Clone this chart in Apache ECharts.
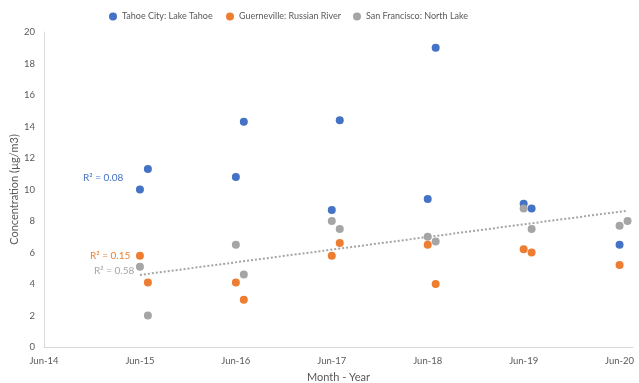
<!DOCTYPE html>
<html>
<head>
<meta charset="utf-8">
<script src="https://cdn.jsdelivr.net/npm/echarts@6/dist/echarts.min.js"></script>
<style>
  html, body { margin: 0; padding: 0; background: #fff; }
  #chart { width: 639px; height: 383px; }
</style>
</head>
<body>
<div id="chart"></div>
<script>
// x in years: 2015 = Jun-15, +1/12 = one month later
const tahoeX = [2015, 2015.083, 2016, 2016.083, 2017, 2017.083, 2018, 2018.083, 2019, 2019.083, 2020];
const tahoeY = [10.0, 11.3, 10.8, 14.3, 8.7, 14.4, 9.4, 19.0, 9.1, 8.8, 6.5];

const guernevilleX = [2015, 2015.083, 2016, 2016.083, 2017, 2017.083, 2018, 2018.083, 2019, 2019.083, 2020];
const guernevilleY = [5.8, 4.1, 4.1, 3.0, 5.8, 6.6, 6.5, 4.0, 6.2, 6.0, 5.2];

const sfX = [2015, 2015.083, 2016, 2016.083, 2017, 2017.083, 2018, 2018.083, 2019, 2019.083, 2020, 2020.083];
const sfY = [5.1, 2.0, 6.5, 4.6, 8.0, 7.5, 7.0, 6.7, 8.8, 7.5, 7.7, 8.0];

const seriesNames = ['Tahoe City: Lake Tahoe', 'Guerneville: Russian River', 'San Francisco: North Lake'];
const colors = ['#4472C4', '#ED7D31', '#A5A5A5'];
const r2Labels = ['R² = 0.08', 'R² = 0.15', 'R² = 0.58'];

const zip = (xs, ys) => xs.map((x, i) => [x, ys[i]]);

// least squares trend for the San Francisco series
function trend(xs, ys) {
    const n = xs.length;
    const mx = xs.reduce((a, b) => a + b, 0) / n;
    const my = ys.reduce((a, b) => a + b, 0) / n;
    let sxy = 0, sxx = 0;
    xs.forEach((x, i) => { sxy += (x - mx) * (ys[i] - my); sxx += (x - mx) * (x - mx); });
    const b = sxy / sxx;
    const a = my - b * mx;
    const x0 = Math.min(...xs), x1 = Math.max(...xs);
    return [[x0, a + b * x0], [x1, a + b * x1]];
}

const chart = echarts.init(document.getElementById('chart'));
const textColor = '#595959';
const font = 'Lato, sans-serif';

const legendLefts = [104, 221, 348];
const legends = seriesNames.map((name, i) => ({
    data: [name],
    top: 7,
    left: legendLefts[i],
    itemWidth: 8,
    itemHeight: 8,
    icon: 'circle',
    textStyle: { fontSize: 9, color: textColor, fontFamily: font },
}));

const option = {
    animation: false,
    textStyle: { fontFamily: font },
    color: colors,
    legend: legends,
    grid: { left: 44, right: 6, top: 32, bottom: 36, outerBoundsMode: 'none', containLabel: false },
    xAxis: {
        type: 'value',
        min: 2014,
        max: 2020.14,
        interval: 1,
        name: 'Month - Year',
        nameLocation: 'middle',
        nameGap: 25,
        nameMoveOverlap: false,
        nameTextStyle: { fontSize: 11, color: textColor },
        axisLine: { lineStyle: { color: '#d9d9d9' } },
        axisTick: { show: false },
        splitLine: { show: false },
        axisLabel: {
            color: textColor,
            fontSize: 9.5,
            margin: 9,
            showMaxLabel: false,
            formatter: v => (Number.isInteger(v) ? 'Jun-' + String(v).slice(2) : ''),
        },
    },
    yAxis: {
        type: 'value',
        min: 0,
        max: 20,
        interval: 2,
        name: 'Concentration (µg/m3)',
        nameLocation: 'middle',
        nameGap: 24,
        nameMoveOverlap: false,
        nameTextStyle: { fontSize: 11, color: textColor },
        axisLine: { show: true, lineStyle: { color: '#d9d9d9' } },
        axisTick: { show: false },
        splitLine: { show: false },
        axisLabel: { color: textColor, fontSize: 9.5, margin: 9 },
    },
    series: [
        {
            name: seriesNames[0],
            type: 'scatter',
            symbolSize: 8,
            itemStyle: { opacity: 1 },
            data: zip(tahoeX, tahoeY),
        },
        {
            name: seriesNames[1],
            type: 'scatter',
            symbolSize: 8,
            itemStyle: { opacity: 1 },
            data: zip(guernevilleX, guernevilleY),
        },
        {
            name: seriesNames[2],
            type: 'scatter',
            symbolSize: 8,
            itemStyle: { opacity: 1 },
            data: zip(sfX, sfY),
        },
        {
            name: 'trend',
            type: 'line',
            data: trend(sfX, sfY),
            showSymbol: false,
            symbol: 'none',
            silent: true,
            z: 1,
            lineStyle: { color: '#A5A5A5', width: 2, type: [2, 2] },
        },
    ],
    graphic: [
        { type: 'text', left: 83, top: 173, style: { text: r2Labels[0], fill: colors[0], fontSize: 10, fontFamily: font } },
        { type: 'text', left: 90, top: 251, style: { text: r2Labels[1], fill: colors[1], fontSize: 10, fontFamily: font } },
        { type: 'text', left: 94, top: 266, style: { text: r2Labels[2], fill: '#A5A5A5', fontSize: 10, fontFamily: font } },
    ],
};

chart.setOption(option);
</script>
</body>
</html>
